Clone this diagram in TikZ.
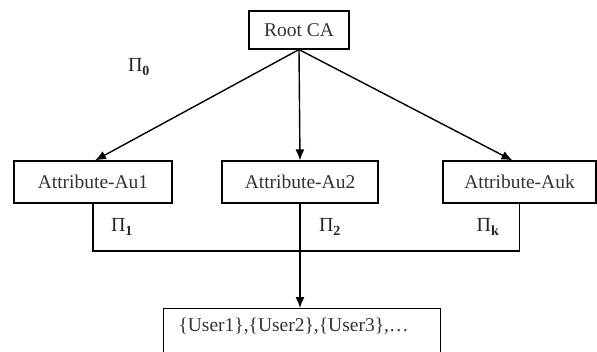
\documentclass[tikz,border=0pt]{standalone}
\usepackage{fontspec}
\setmainfont{Liberation Serif}
\usepackage{tikz}
\usetikzlibrary{arrows.meta}

\newcommand{\pisub}[1]{Π\textsubscript{\textbf{#1}}}

\begin{document}
\begin{tikzpicture}[x=1pt, y=-1pt,
    box/.style={draw, line width=1.1pt, inner sep=0pt, font=\fontsize{19.5}{22}\selectfont, text=black!80},
    link/.style={line width=1.4pt, -{Latex[length=11pt, width=9pt]}},
    bar/.style={line width=1.1pt},
    pilabel/.style={font=\fontsize{20}{22}\selectfont, text=black!85}]
    \useasboundingbox (0,0) rectangle (597,351);

    % Authorities
    % ---------------------
    \node[box, minimum width=100pt, minimum height=38pt] (root) at (299,30) {Root CA};
    \node[box, minimum width=158pt, minimum height=42pt] (au1) at (93,182) {Attribute-Au1};
    \node[box, minimum width=156pt, minimum height=42pt] (au2) at (300,182) {Attribute-Au2};
    \node[box, minimum width=153pt, minimum height=42pt] (auk) at (519.5,182) {Attribute-Auk};

    % Users
    % ---------------------
    \node[box, anchor=north west, text width=247pt, align=left, inner xsep=15pt, inner ysep=9pt,
          text depth=40pt] (users) at (163,308) {\{User1\},\{User2\},\{User3\},\ldots};

    % Arrows from the root
    % ---------------------
    \draw[link] (root.south) -- ([xshift=2pt]au1.north);
    \draw[link] (root.south) -- (au2.north);
    \draw[link] (root.south) -- ([xshift=-7pt]auk.north);

    % Collecting bar
    % ---------------------
    \coordinate (b1) at (93,251);
    \coordinate (bk) at (519.5,251);
    \draw[bar] (au1.south) -- (b1) -- (bk) -- (auk.south);
    \draw[link] (au2.south) -- (au2.south |- users.north);

    % Labels
    % ---------------------
    \node[pilabel] (pi0) at (139,67) {\pisub{0}};
    \node[pilabel] (pi1) at (122,227) {\pisub{1}};
    \node[pilabel] (pi2) at (330,227) {\pisub{2}};
    \node[pilabel] (pik) at (488,227) {\pisub{k}};
  \end{tikzpicture}
\end{document}
